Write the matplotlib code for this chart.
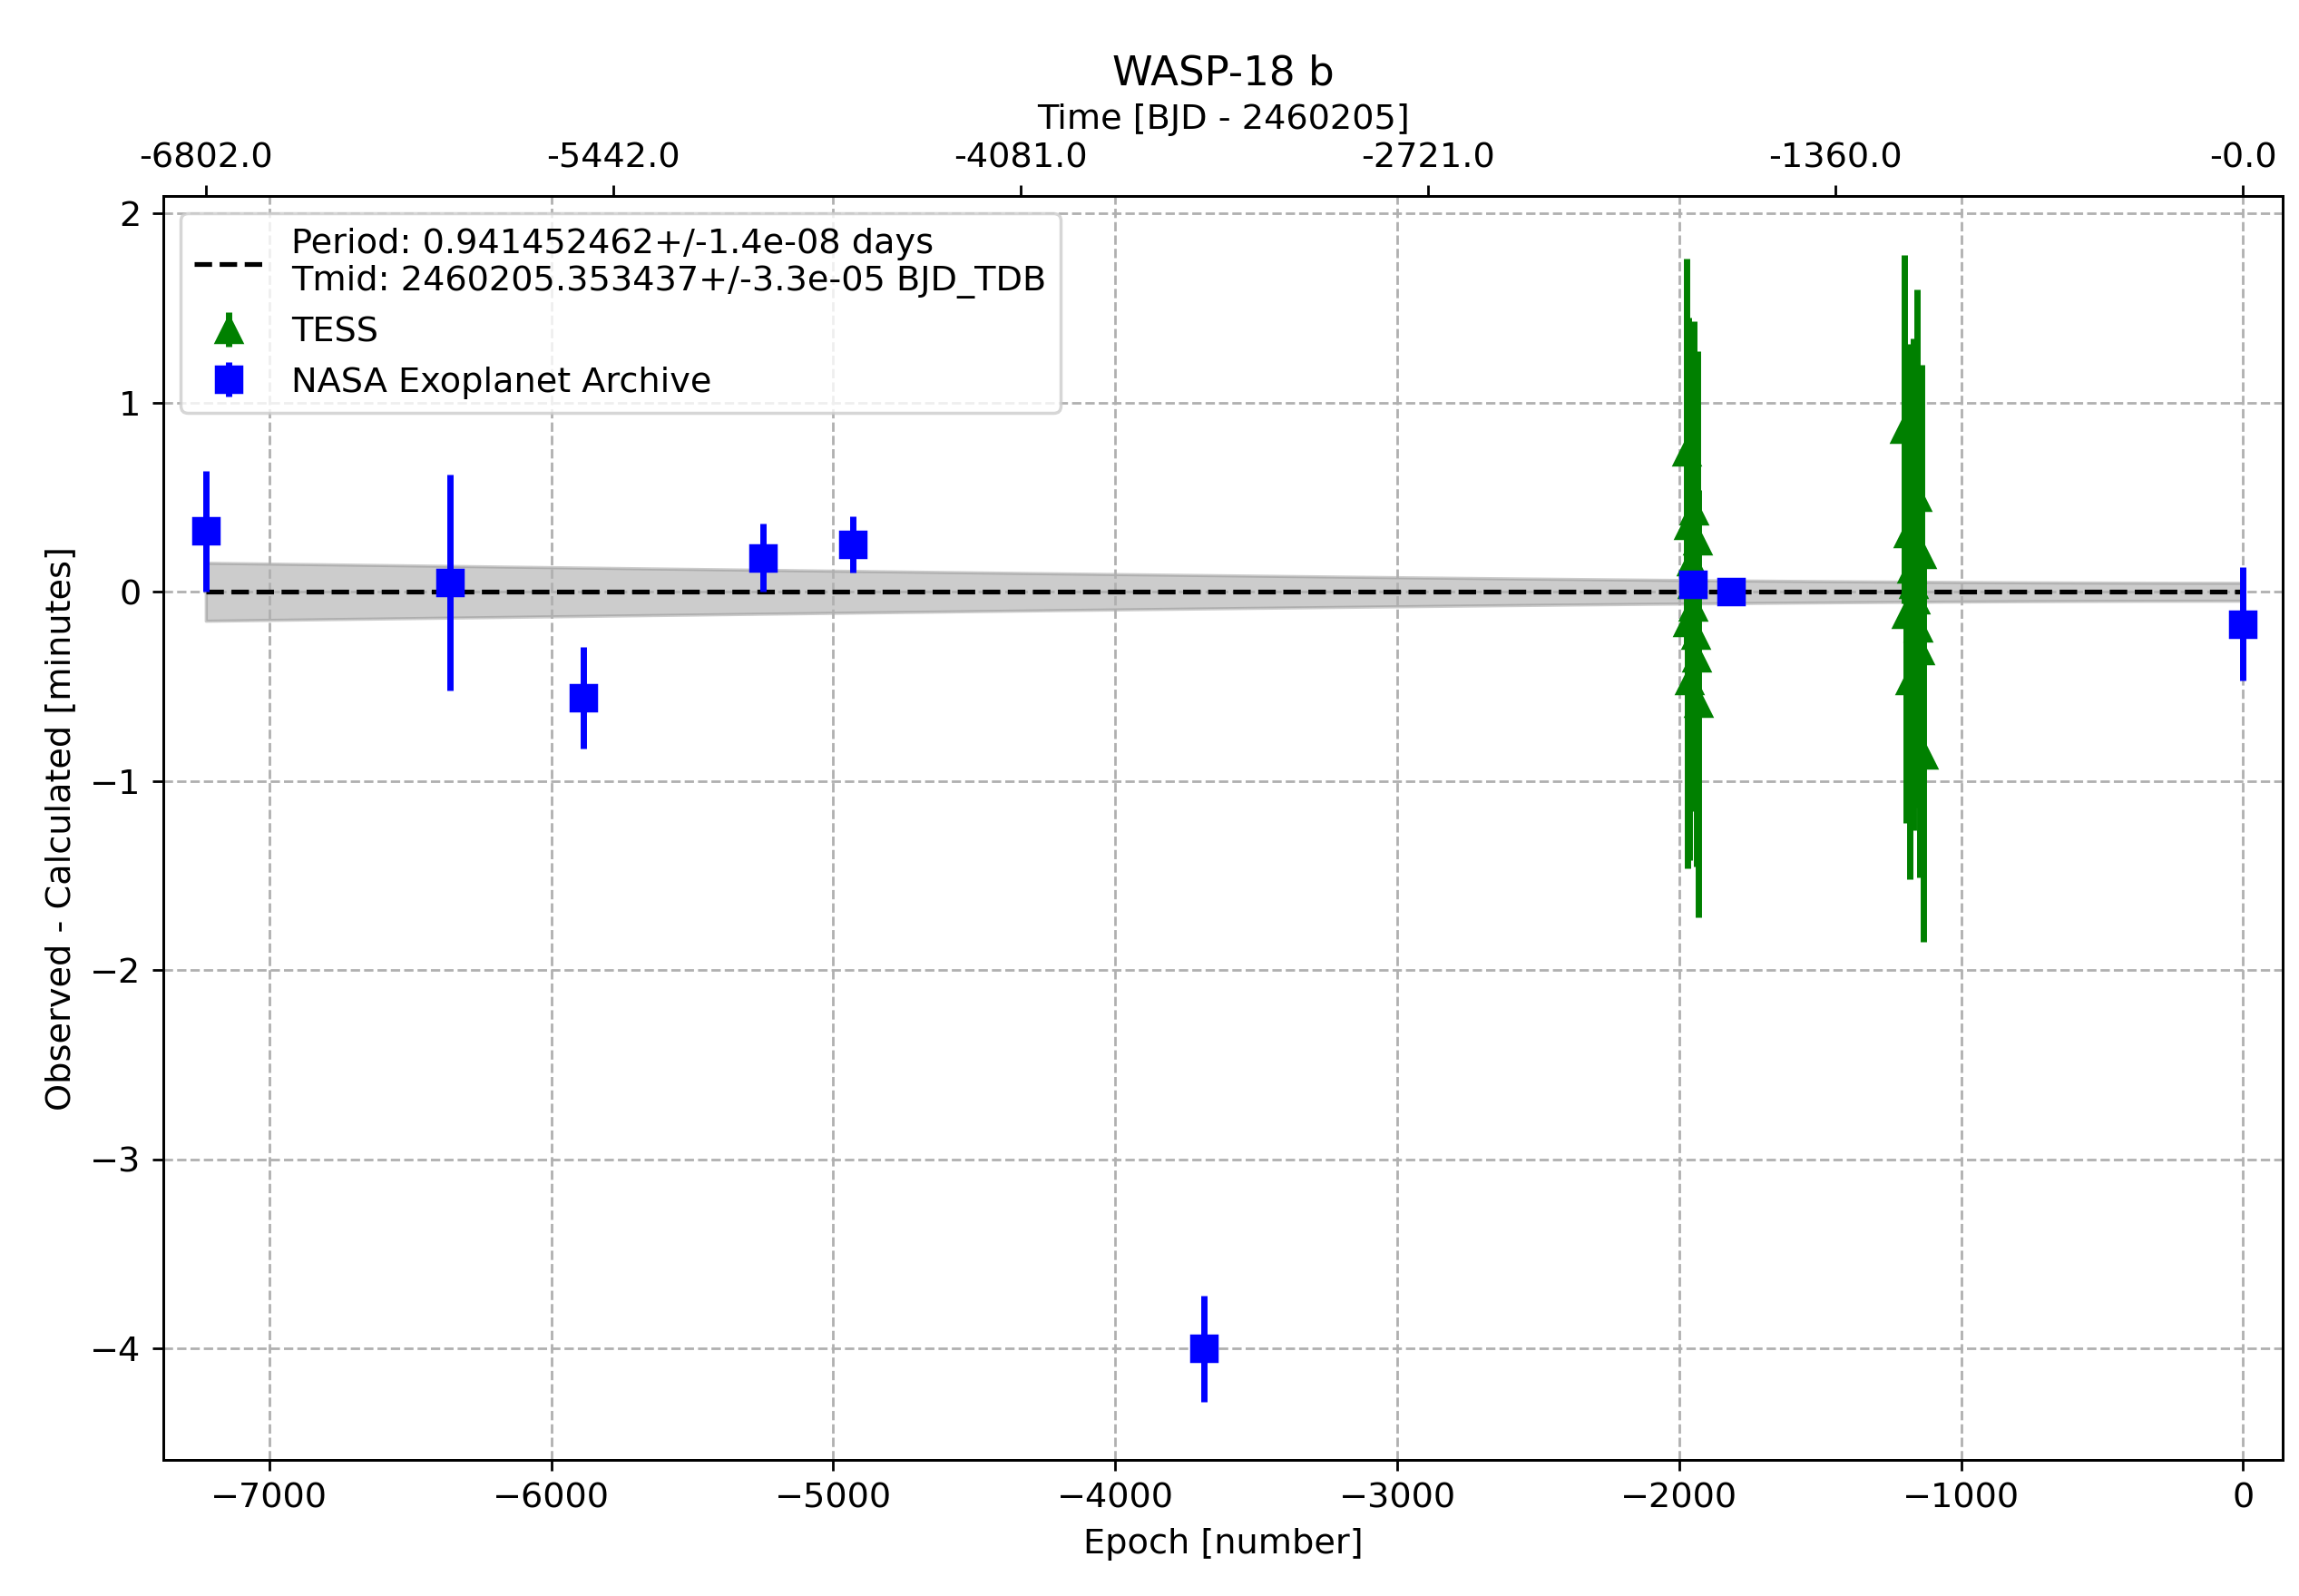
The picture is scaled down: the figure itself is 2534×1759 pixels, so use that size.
import numpy as np
import matplotlib
matplotlib.use("Agg")
import matplotlib.pyplot as plt

plt.rcParams["font.size"] = 11

period = 0.941452462
period_err = 1.4e-8
tmid_err = 3.3e-5

nasa_epoch = [-7225, -6360, -5885, -5250, -4930, -3685, -1950, -1815, 0]
nasa_oc = [0.32, 0.05, -0.56, 0.18, 0.25, -4.0, 0.04, 0.0, -0.17]
nasa_err = [0.32, 0.57, 0.27, 0.18, 0.15, 0.28, 0.05, 0.05, 0.30]

tess_epoch = [-1975, -1971, -1967, -1963, -1959, -1955, -1951, -1947, -1943, -1939, -1935, -1931,
              -1200, -1194, -1188, -1182, -1176, -1170, -1164, -1158, -1152, -1146, -1140, -1134]
tess_oc = [0.74, -0.16, 0.35, -0.47, 0.16, 0.04, -0.08, 0.43, -0.23, -0.35, 0.27, -0.59,
           0.86, -0.12, 0.31, -0.47, 0.12, 0.04, -0.04, 0.50, -0.19, -0.31, 0.20, -0.86]
tess_err = [1.02, 1.3, 1.1, 0.95, 1.05, 1.2, 1.0, 1.0, 0.9, 1.1, 1.0, 1.13,
            0.92, 1.1, 1.0, 1.05, 1.15, 1.3, 1.0, 1.1, 0.95, 1.2, 1.0, 0.99]

fig, ax = plt.subplots(figsize=(10.136, 7.036), dpi=250)
ep = np.linspace(min(nasa_epoch), max(nasa_epoch), 200)
band = np.sqrt((tmid_err * 1440) ** 2 + (ep * period_err * 1440) ** 2)
ax.fill_between(ep, -band, band, color="gray", alpha=0.4)
ax.plot(ep, np.zeros_like(ep), "k--", lw=1.5,
        label=f"Period: {period}+/-{period_err:.1e} days\nTmid: 2460205.353437+/-{tmid_err:.1e} BJD_TDB")
ax.errorbar(tess_epoch, tess_oc, yerr=tess_err, fmt="^", color="green", ms=8, elinewidth=2, label="TESS")
ax.errorbar(nasa_epoch, nasa_oc, yerr=nasa_err, fmt="s", color="blue", ms=8, elinewidth=2,
            label="NASA Exoplanet Archive")
ax.set_xlabel("Epoch [number]")
ax.set_ylabel("Observed - Calculated [minutes]")
ax.grid(True, ls="--")
ax.legend(loc="upper left")
ax.set_ylim(-4.59, 2.09)
ax.set_xlim(-7376, 141)

ax2 = ax.twiny()
ax2.set_xlim(ax.get_xlim())
ticks = -np.linspace(-min(nasa_epoch), -max(nasa_epoch), 6)
ax2.set_xticks(ticks)
ax2.set_xticklabels([f"{np.round(t * period):.1f}" for t in ticks])
ax2.set_xlabel("Time [BJD - 2460205]")
ax2.set_title("WASP-18 b", fontsize=13)
fig.subplots_adjust(left=0.071, right=0.993, bottom=0.085, top=0.877)
fig.savefig("out.png")
